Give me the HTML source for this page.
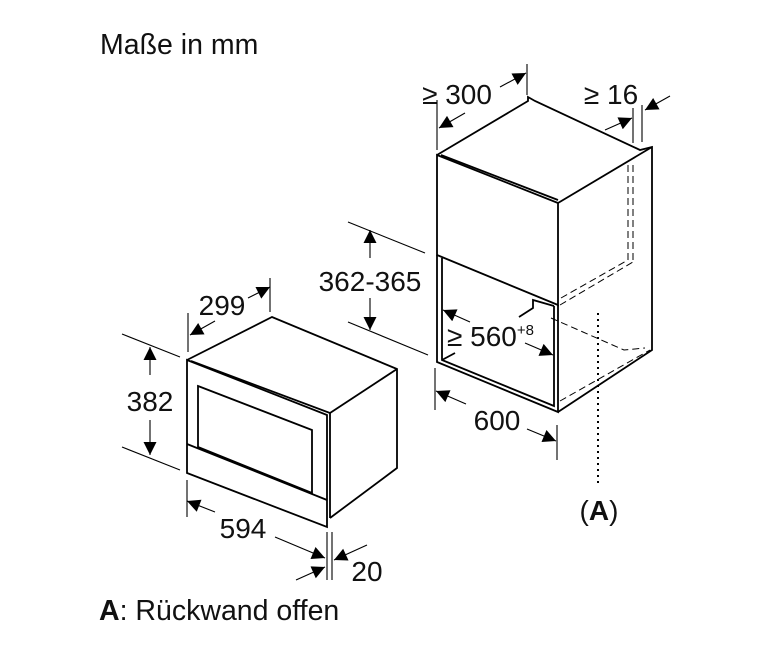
<!DOCTYPE html>
<html><head><meta charset="utf-8"><style>
html,body{margin:0;padding:0;background:#fff}
svg{display:block}
text{font-family:"Liberation Sans",sans-serif;fill:#111}
</style></head><body>
<svg width="767" height="652" viewBox="0 0 767 652" xmlns="http://www.w3.org/2000/svg">
<defs>
<marker id="a" viewBox="0 0 10 10" refX="10" refY="5" markerWidth="20" markerHeight="13" markerUnits="userSpaceOnUse" orient="auto"><path d="M0,0L10,5L0,10z" fill="#000"/></marker>
</defs>
<text x="100" y="54" font-size="28.5">Maße in mm</text>
<text x="99" y="620" font-size="28.5"><tspan font-weight="bold">A</tspan>: Rückwand offen</text>

<g stroke="#000" fill="none" stroke-width="1.8">
<path d="M187,360 L272,317 L397,369 L397,468 L330,518"/>
<path d="M187,360 L327,415 L327,527 L187,473 Z" fill="#fff"/>
<path d="M191,361 L330,413 L330,518"/>
<path d="M198,386 L312,430 L312,493 L198,447 Z"/>
<path d="M187,444 L327,500"/>
<path d="M330,413 L397,369"/>
</g>
<g stroke="#000" fill="none" stroke-width="1.1">
<line x1="122" y1="334" x2="180" y2="357"/><line x1="122" y1="447" x2="180" y2="470"/>
<line x1="150" y1="375" x2="150" y2="347" marker-end="url(#a)"/>
<line x1="150" y1="420" x2="150" y2="455" marker-end="url(#a)"/>
<line x1="188" y1="313" x2="188" y2="352"/><line x1="270" y1="278" x2="270" y2="312"/>
<line x1="215" y1="321" x2="190" y2="335" marker-end="url(#a)"/>
<line x1="248" y1="298" x2="270" y2="287" marker-end="url(#a)"/>
<line x1="187" y1="480" x2="187" y2="517"/><line x1="327" y1="532" x2="327" y2="580"/><line x1="332" y1="532" x2="332" y2="580"/>
<line x1="215" y1="512" x2="187" y2="501" marker-end="url(#a)"/>
<line x1="275" y1="537" x2="325" y2="558" marker-end="url(#a)"/>
<line x1="367" y1="545" x2="334" y2="560" marker-end="url(#a)"/>
<line x1="296" y1="580" x2="325" y2="567" marker-end="url(#a)"/>
</g>
<text x="150" y="411" font-size="28" text-anchor="middle">382</text>
<text x="222" y="315" font-size="28" text-anchor="middle">299</text>
<text x="243" y="538" font-size="28" text-anchor="middle">594</text>
<text x="367" y="581" font-size="28" text-anchor="middle">20</text>

<g stroke="#000" fill="none" stroke-width="1.8">
<path d="M437,155 L528,101 L528,97 L535,101 L640,150 L652,147 L652,350 L558,412"/>
<path d="M437,155 L558,203 L558,305 L437,255 Z" fill="#fff"/>
<path d="M441,155 L558,200"/>
<path d="M558,203 L652,147"/>
<path d="M437,255 L437,362 L558,412 L558,305"/>
<path d="M442,258 L442,360 L554,406 L554,306"/>
<path d="M442,360 L455,353"/>
<path d="M519,317 L533,308 L533,300 L554,306"/>
</g>
<g stroke="#000" fill="none" stroke-width="1" stroke-dasharray="7,4">
<line x1="628" y1="165" x2="628" y2="262"/><line x1="633" y1="165" x2="633" y2="262"/>
<path d="M560,305 L633,262"/><path d="M561,298 L628,260"/>
<path d="M551,318 L624,350 L645,348"/>
<path d="M560,401 L650,350"/>
</g>
<line x1="598" y1="313" x2="598" y2="484" stroke="#000" stroke-width="2" stroke-dasharray="2,4"/>
<g stroke="#000" fill="none" stroke-width="1.1">
<line x1="437" y1="100" x2="437" y2="150"/><line x1="527" y1="64" x2="527" y2="95"/>
<line x1="465" y1="113" x2="439" y2="128" marker-end="url(#a)"/>
<line x1="500" y1="87" x2="526" y2="73" marker-end="url(#a)"/>
<line x1="633" y1="108" x2="633" y2="143"/><line x1="642" y1="105" x2="642" y2="142"/>
<line x1="605" y1="130" x2="632" y2="118" marker-end="url(#a)"/>
<line x1="670" y1="96" x2="645" y2="110" marker-end="url(#a)"/>
<line x1="348" y1="222" x2="425" y2="253"/><line x1="348" y1="322" x2="428" y2="355"/>
<line x1="370" y1="258" x2="370" y2="230" marker-end="url(#a)"/>
<line x1="370" y1="298" x2="370" y2="330" marker-end="url(#a)"/>
<line x1="470" y1="322" x2="443" y2="310" marker-end="url(#a)"/>
<line x1="525" y1="343" x2="553" y2="355" marker-end="url(#a)"/>
<line x1="435" y1="368" x2="435" y2="410"/><line x1="557" y1="425" x2="557" y2="460"/>
<line x1="466" y1="404" x2="436" y2="391" marker-end="url(#a)"/>
<line x1="527" y1="429" x2="556" y2="441" marker-end="url(#a)"/>
</g>
<text x="457" y="104" font-size="28" text-anchor="middle">≥ 300</text>
<text x="611" y="104" font-size="28" text-anchor="middle">≥ 16</text>
<text x="370" y="291" font-size="28" text-anchor="middle">362-365</text>
<text x="447" y="346" font-size="28">≥ 560<tspan font-size="15" dy="-11">+8</tspan></text>
<text x="497" y="430" font-size="28" text-anchor="middle">600</text>
<text x="599" y="520" font-size="28" text-anchor="middle">(<tspan font-weight="bold">A</tspan>)</text>
</svg>
</body></html>
